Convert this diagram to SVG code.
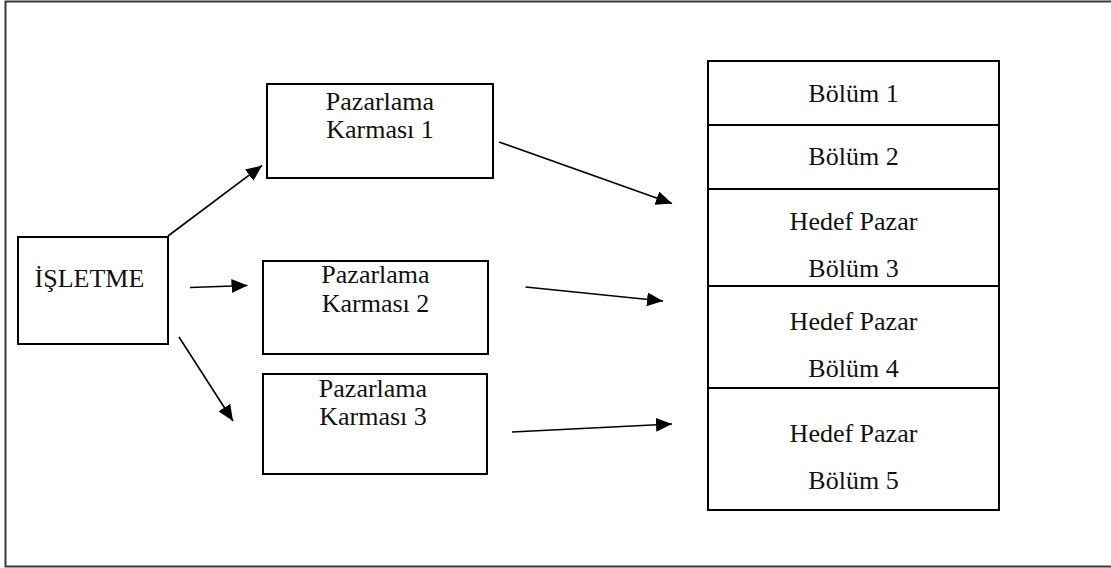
<svg xmlns="http://www.w3.org/2000/svg" width="1111" height="568" viewBox="0 0 1111 568">
  <defs>
    <style>
      .box { fill: #ffffff; stroke: #000000; stroke-width: 2; }
      .frame { fill: none; stroke: #3a3a3a; stroke-width: 2; }
      .lbl { font-family: "Liberation Serif", "Times New Roman", serif; font-size: 26px; fill: #111111; text-anchor: middle; }
      .arrow { fill: none; stroke: #000000; stroke-width: 1.6; marker-end: url(#head); }
    </style>
    <marker id="head" markerUnits="userSpaceOnUse" markerWidth="17" markerHeight="14" refX="16" refY="7" orient="auto">
      <path d="M0,0 L16,7 L0,14 Z" fill="#000000"/>
    </marker>
  </defs>

  <rect width="1111" height="568" fill="#ffffff"/>
  <!-- outer frame (right edge lies beyond the canvas) -->
  <rect class="frame" x="5.5" y="1.5" width="1120" height="565"/>

  <g id="isletme">
    <rect class="box" x="18" y="237" width="150" height="107"/>
    <text class="lbl" x="89.5" y="287">İŞLETME</text>
  </g>

  <g id="karma1">
    <rect class="box" x="267" y="84" width="226" height="94"/>
    <text class="lbl" x="380" y="110">Pazarlama</text>
    <text class="lbl" x="380" y="138">Karması 1</text>
  </g>

  <g id="karma2">
    <rect class="box" x="263" y="261" width="225" height="93"/>
    <text class="lbl" x="375.5" y="283">Pazarlama</text>
    <text class="lbl" x="375.5" y="312">Karması 2</text>
  </g>

  <g id="karma3">
    <rect class="box" x="263" y="374" width="224" height="100"/>
    <text class="lbl" x="373" y="396.5">Pazarlama</text>
    <text class="lbl" x="373" y="425">Karması 3</text>
  </g>

  <g id="bolum1">
    <rect class="box" x="708" y="61" width="291" height="64"/>
    <text class="lbl" x="853.5" y="102">Bölüm 1</text>
  </g>
  <g id="bolum2">
    <rect class="box" x="708" y="125" width="291" height="64"/>
    <text class="lbl" x="853.5" y="165">Bölüm 2</text>
  </g>
  <g id="bolum3">
    <rect class="box" x="708" y="189" width="291" height="97"/>
    <text class="lbl" x="853.5" y="230">Hedef Pazar</text>
    <text class="lbl" x="853.5" y="277">Bölüm 3</text>
  </g>
  <g id="bolum4">
    <rect class="box" x="708" y="286" width="291" height="102"/>
    <text class="lbl" x="853.5" y="330">Hedef Pazar</text>
    <text class="lbl" x="853.5" y="377">Bölüm 4</text>
  </g>
  <g id="bolum5">
    <rect class="box" x="708" y="388" width="291" height="122"/>
    <text class="lbl" x="853.5" y="442">Hedef Pazar</text>
    <text class="lbl" x="853.5" y="489">Bölüm 5</text>
  </g>

  <g id="connectors">
    <line class="arrow" x1="168" y1="236" x2="262" y2="165.5"/>
    <line class="arrow" x1="190" y1="287.5" x2="247.5" y2="285.5"/>
    <line class="arrow" x1="179" y1="337" x2="233" y2="421"/>
    <line class="arrow" x1="499" y1="142" x2="672" y2="203.5"/>
    <line class="arrow" x1="525.5" y1="287" x2="663" y2="301"/>
    <line class="arrow" x1="512" y1="432" x2="672" y2="424"/>
  </g>
</svg>
